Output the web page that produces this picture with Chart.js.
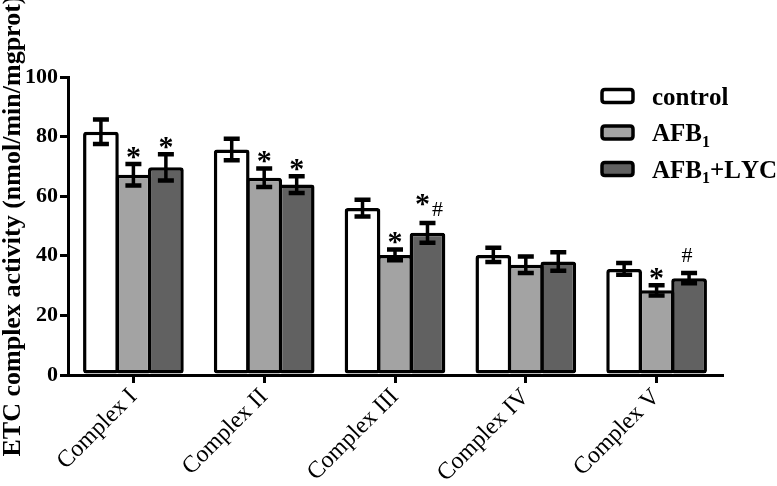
<!DOCTYPE html>
<html>
<head>
<meta charset="utf-8">
<script src="https://cdn.jsdelivr.net/npm/chart.js@4/dist/chart.umd.min.js"></script>
<style>
html,body{margin:0;padding:0;background:#fff;}
#wrap{width:777px;height:486px;}
</style>
</head>
<body>
<div id="wrap"><canvas id="c" width="777" height="486"></canvas></div>
<script>
// ---- data ----
const categories = ['Complex I', 'Complex II', 'Complex III', 'Complex IV', 'Complex V'];
const seriesNames = ['control', 'AFB_1', 'AFB_1+LYC'];
const controlValues = [81.6, 75.7, 56.0, 40.3, 35.6];
const controlErrors = [4.1, 3.6, 2.8, 2.4, 2.0];
const afbValues = [67.2, 66.2, 40.3, 37.0, 28.4];
const afbErrors = [3.6, 3.1, 1.8, 2.8, 1.7];
const lycValues = [69.7, 63.9, 47.7, 38.1, 32.5];
const lycErrors = [4.4, 2.8, 3.3, 3.1, 1.7];
const controlMarks = ['', '', '', '', ''];
const afbMarks = ['*', '*', '*', '', '*'];
const lycMarks = ['*', '*', '*#', '', '#'];
const yTicks = [0, 20, 40, 60, 80, 100];
const yTitle = 'ETC complex activity (nmol/min/mgprot)';

const FONT = '"Liberation Serif", "Times New Roman", serif';
const colors = ['#ffffff', '#a3a3a3', '#616161'];
const errors = [controlErrors, afbErrors, lycErrors];
const marks = [controlMarks, afbMarks, lycMarks];

const PLOT = {left: 68, right: 722, top: 77, bottom: 375};

const errorBarPlugin = {
  id: 'errorBars',
  afterDatasetsDraw(chart) {
    const ctx = chart.ctx;
    const ys = chart.scales.y;
    ctx.save();
    ctx.strokeStyle = '#000';
    ctx.lineCap = 'butt';
    chart.data.datasets.forEach((ds, di) => {
      const meta = chart.getDatasetMeta(di);
      meta.data.forEach((bar, i) => {
        const v = ds.data[i], e = errors[di][i];
        const yt = ys.getPixelForValue(v + e);
        const yb = ys.getPixelForValue(v - e);
        const x = bar.x;
        const hw = 8;
        ctx.lineWidth = 3.5;
        ctx.beginPath();
        ctx.moveTo(x, yt); ctx.lineTo(x, yb);
        ctx.stroke();
        ctx.lineWidth = 4.5;
        ctx.beginPath();
        ctx.moveTo(x - hw, yt); ctx.lineTo(x + hw, yt);
        ctx.moveTo(x - hw, yb); ctx.lineTo(x + hw, yb);
        ctx.stroke();
        // significance marks
        const m = marks[di][i];
        if (m) {
          ctx.fillStyle = '#000';
          ctx.textAlign = 'center';
          ctx.textBaseline = 'middle';
          if (m === '*') {
            ctx.font = 'bold 30px ' + FONT;
            ctx.fillText('*', x, yt - 6);
          } else if (m === '#') {
            ctx.font = '22px ' + FONT;
            ctx.fillText('#', x - 2, yt - 17);
          } else if (m === '*#') {
            ctx.font = 'bold 30px ' + FONT;
            ctx.fillText('*', x - 5, yt - 18);
            ctx.font = '22px ' + FONT;
            ctx.fillText('#', x + 10, yt - 13);
          }
        }
      });
    });
    ctx.restore();
  }
};

function drawRich(ctx, text, x, y, size) {
  // '_' makes the next character a subscript
  let cx = x;
  for (let i = 0; i < text.length; i++) {
    let ch = text[i];
    if (ch === '_' && i + 1 < text.length) {
      ch = text[++i];
      ctx.font = 'bold ' + Math.round(size * 0.65) + 'px ' + FONT;
      ctx.fillText(ch, cx, y + size * 0.22);
      cx += ctx.measureText(ch).width;
    } else {
      ctx.font = 'bold ' + size + 'px ' + FONT;
      ctx.fillText(ch, cx, y);
      cx += ctx.measureText(ch).width;
    }
  }
}

function roundRect(ctx, x, y, w, h, r) {
  ctx.beginPath();
  ctx.moveTo(x + r, y);
  ctx.lineTo(x + w - r, y); ctx.quadraticCurveTo(x + w, y, x + w, y + r);
  ctx.lineTo(x + w, y + h - r); ctx.quadraticCurveTo(x + w, y + h, x + w - r, y + h);
  ctx.lineTo(x + r, y + h); ctx.quadraticCurveTo(x, y + h, x, y + h - r);
  ctx.lineTo(x, y + r); ctx.quadraticCurveTo(x, y, x + r, y);
  ctx.closePath();
}

const legendPlugin = {
  id: 'customLegend',
  afterDraw(chart) {
    const ctx = chart.ctx;
    ctx.save();
    chart.data.datasets.forEach((ds, i) => {
      const bx = 602, by = 89.5 + i * 36.5, bw = 31, bh = 13;
      roundRect(ctx, bx, by, bw, bh, 3);
      ctx.fillStyle = ds.backgroundColor;
      ctx.fill();
      ctx.lineWidth = 3.5;
      ctx.strokeStyle = '#000';
      ctx.stroke();
      ctx.fillStyle = '#000';
      ctx.textAlign = 'left';
      ctx.textBaseline = 'alphabetic';
      drawRich(ctx, seriesNames[i], 652, by + 15, 25);
    });
    ctx.restore();
  }
};

const datasets = [controlValues, afbValues, lycValues].map((vals, i) => ({
  label: seriesNames[i].replace('_', ''),
  data: vals,
  backgroundColor: colors[i],
  borderColor: '#000',
  borderWidth: 3.5,
  borderSkipped: false,
  borderRadius: 3,
  categoryPercentage: 0.745,
  barPercentage: 1.1
}));

new Chart(document.getElementById('c'), {
  type: 'bar',
  data: {labels: categories, datasets},
  options: {
    responsive: false,
    animation: false,
    devicePixelRatio: 1,
    layout: {padding: {left: 0, right: 777 - PLOT.right, top: PLOT.top, bottom: 0}},
    plugins: {legend: {display: false}, tooltip: {enabled: false}},
    scales: {
      x: {
        offset: true,
        grid: {display: true, drawOnChartArea: false, drawTicks: true, tickLength: 8, lineWidth: 3, color: '#000', offset: false},
        border: {display: true, color: '#000', width: 3},
        ticks: {color: '#000', font: {family: FONT, size: 24}, maxRotation: 45, minRotation: 45, padding: 0},
        afterFit(s) { s.height = 486 - PLOT.bottom; }
      },
      y: {
        min: 0, max: 100,
        afterBuildTicks(s) { s.ticks = yTicks.map(v => ({value: v})); },
        grid: {display: true, drawOnChartArea: false, drawTicks: true, tickLength: 8, lineWidth: 3, color: '#000'},
        border: {display: true, color: '#000', width: 3},
        ticks: {color: '#000', font: {family: FONT, size: 22, weight: 'bold'}, padding: 2},
        title: {display: true, text: yTitle, color: '#000', font: {family: FONT, size: 26, weight: 'bold', lineHeight: 1}, padding: 0},
        afterFit(s) { s.width = PLOT.left; }
      }
    }
  },
  plugins: [errorBarPlugin, legendPlugin]
});
</script>
</body>
</html>
